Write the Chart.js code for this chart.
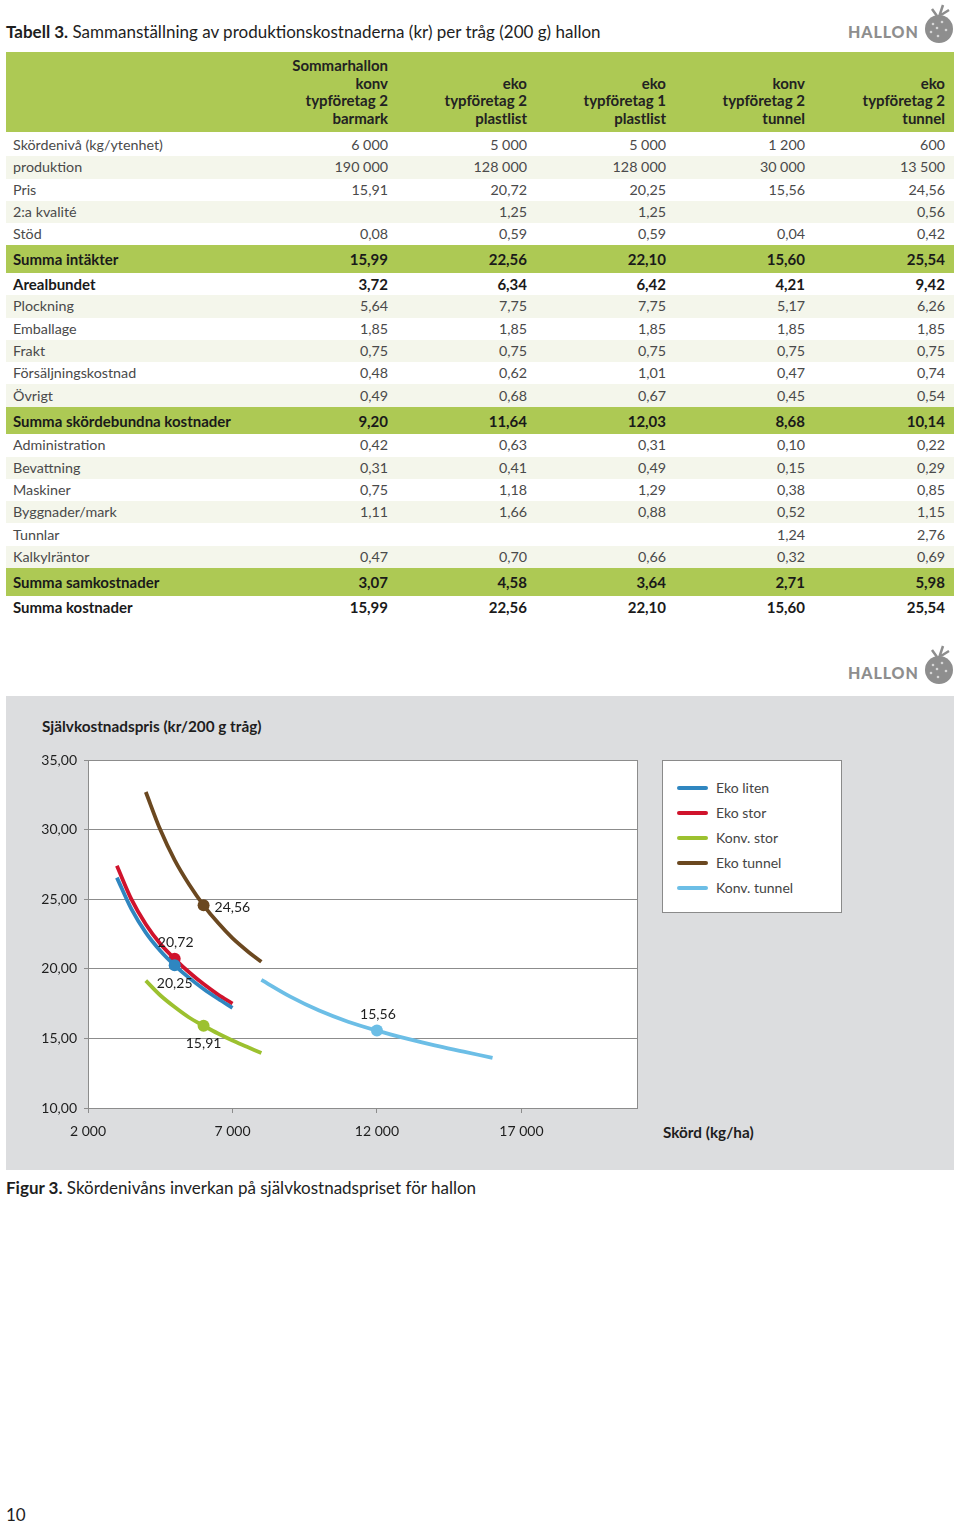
<!DOCTYPE html>
<html lang="sv">
<head>
<meta charset="utf-8">
<title>Hallon – självkostnadspris</title>
<script src="https://cdn.jsdelivr.net/npm/chart.js@4.4.1/dist/chart.umd.min.js"></script>
<style>
  body { margin: 0; width: 960px; height: 1522px; position: relative; background: #fff;
         font-family: Lato, 'Open Sans', sans-serif; color: #1e1e1e; }
  .rubrik { position: absolute; left: 6px; font-size: 17px; line-height: 20px; white-space: nowrap; }
  .logo-text { position: absolute; left: 848px; font-size: 16px; line-height: 20px; font-weight: 900;
               color: #8e8e8e; letter-spacing: 0.9px; }
  .logo-bild { position: absolute; left: 922px; }
  #tabell { position: absolute; left: 6px; top: 52px; width: 948px; border-collapse: collapse;
            table-layout: fixed; font-size: 14.3px; }
  #tabell th { background: #adc954; height: 75px; padding: 0 9px 5px 0; vertical-align: bottom;
               text-align: right; font-weight: 700; font-size: 15px; line-height: 17.5px; color: #222; }
  #tabell td { padding: 0 9px 0 0; text-align: right; line-height: 16px; color: #4a4a4a; white-space: nowrap; }
  #tabell td:first-child { text-align: left; padding-left: 7px; }
  #tabell tr.v td, #tabell tr.l td, #tabell tr.b td { height: 22.3px; }
  #tabell tr.l td { background: #f4f6eb; }
  #tabell tr.s td { height: 27.5px; background: #adc954; font-weight: 700; font-size: 15px; color: #1a1a1a; }
  #tabell tr.b td { font-weight: 700; font-size: 15px; color: #1a1a1a; }
  #tabell tr.gap td { height: 2px; padding: 0; }
  .figur { position: absolute; left: 6px; top: 696px; width: 948px; height: 474px; background: #dcdddf; }
  .y-titel { position: absolute; left: 36px; top: 21px; font-size: 15.3px; line-height: 18px; font-weight: 700; }
  .x-titel { position: absolute; left: 657px; top: 427px; font-size: 15.3px; line-height: 18px; font-weight: 700; }
  #diagram { position: absolute; left: 0; top: 44px; }
  #legend { position: absolute; left: 656px; top: 64px; width: 178px; height: 151px; background: #fff;
            border: 1px solid #8a8a8a; }
  .post { position: absolute; left: 14px; height: 20px; font-size: 14px; line-height: 20px; color: #444; }
  .post i { position: absolute; left: 0; top: 8px; width: 31px; height: 4px; border-radius: 2px; }
  .post span { position: absolute; left: 39px; white-space: nowrap; }
</style>
</head>
<body>

<div class="rubrik" style="top:22px"><b>Tabell 3.</b> Sammanställning av produktionskostnaderna (kr) per tråg (200 g) hallon</div>
<div class="logo-text" style="top:22px">HALLON</div>
<svg class="logo-bild" style="top:1px" width="34" height="44" viewBox="0 0 34 44">
  <path d="M17 16 L21 4 M19 14 L27 9 M15 15 L10 8" stroke="#8e8e8e" stroke-width="2.5" fill="none"/>
  <circle cx="17" cy="28" r="14" fill="#8e8e8e"/>
  <circle cx="11" cy="23" r="1.3" fill="#d6d6d6"/><circle cx="20" cy="21" r="1.3" fill="#d6d6d6"/>
  <circle cx="9" cy="31" r="1.3" fill="#d6d6d6"/><circle cx="24" cy="29" r="1.3" fill="#d6d6d6"/>
  <circle cx="16" cy="35" r="1.3" fill="#d6d6d6"/><circle cx="15" cy="27" r="1.3" fill="#d6d6d6"/>
</svg>

<table id="tabell">
  <colgroup><col style="width:252px"><col style="width:139px"><col style="width:139px"><col style="width:139px"><col style="width:139px"><col style="width:140px"></colgroup>
  <thead><tr id="rubrikRad"></tr></thead>
  <tbody id="tabellKropp"></tbody>
</table>

<div class="logo-text" style="top:663px">HALLON</div>
<svg class="logo-bild" style="top:642px" width="34" height="44" viewBox="0 0 34 44">
  <path d="M17 16 L21 4 M19 14 L27 9 M15 15 L10 8" stroke="#8e8e8e" stroke-width="2.5" fill="none"/>
  <circle cx="17" cy="28" r="14" fill="#8e8e8e"/>
  <circle cx="11" cy="23" r="1.3" fill="#d6d6d6"/><circle cx="20" cy="21" r="1.3" fill="#d6d6d6"/>
  <circle cx="9" cy="31" r="1.3" fill="#d6d6d6"/><circle cx="24" cy="29" r="1.3" fill="#d6d6d6"/>
  <circle cx="16" cy="35" r="1.3" fill="#d6d6d6"/><circle cx="15" cy="27" r="1.3" fill="#d6d6d6"/>
</svg>

<div class="figur">
  <div class="y-titel">Självkostnadspris (kr/200 g tråg)</div>
  <canvas id="diagram" width="640" height="410"></canvas>
  <div id="legend"></div>
  <div class="x-titel">Skörd (kg/ha)</div>
</div>

<div class="rubrik" style="top:1178px"><b>Figur 3.</b> Skördenivåns inverkan på självkostnadspriset för hallon</div>
<div class="rubrik" style="top:1505px">10</div>

<script>
// Tabell 3 - kolumnrubriker och rader
const kolumnRubriker = [
    ['Sommarhallon', 'konv', 'typföretag 2', 'barmark'],
    ['eko', 'typföretag 2', 'plastlist'],
    ['eko', 'typföretag 1', 'plastlist'],
    ['konv', 'typföretag 2', 'tunnel'],
    ['eko', 'typföretag 2', 'tunnel']
];

const tabellRader = [
    ['Skördenivå (kg/ytenhet)', '6 000', '5 000', '5 000', '1 200', '600'],
    ['produktion', '190 000', '128 000', '128 000', '30 000', '13 500'],
    ['Pris', '15,91', '20,72', '20,25', '15,56', '24,56'],
    ['2:a kvalité', '', '1,25', '1,25', '', '0,56'],
    ['Stöd', '0,08', '0,59', '0,59', '0,04', '0,42'],
    ['Summa intäkter', '15,99', '22,56', '22,10', '15,60', '25,54'],
    ['Arealbundet', '3,72', '6,34', '6,42', '4,21', '9,42'],
    ['Plockning', '5,64', '7,75', '7,75', '5,17', '6,26'],
    ['Emballage', '1,85', '1,85', '1,85', '1,85', '1,85'],
    ['Frakt', '0,75', '0,75', '0,75', '0,75', '0,75'],
    ['Försäljningskostnad', '0,48', '0,62', '1,01', '0,47', '0,74'],
    ['Övrigt', '0,49', '0,68', '0,67', '0,45', '0,54'],
    ['Summa skördebundna kostnader', '9,20', '11,64', '12,03', '8,68', '10,14'],
    ['Administration', '0,42', '0,63', '0,31', '0,10', '0,22'],
    ['Bevattning', '0,31', '0,41', '0,49', '0,15', '0,29'],
    ['Maskiner', '0,75', '1,18', '1,29', '0,38', '0,85'],
    ['Byggnader/mark', '1,11', '1,66', '0,88', '0,52', '1,15'],
    ['Tunnlar', '', '', '', '1,24', '2,76'],
    ['Kalkylräntor', '0,47', '0,70', '0,66', '0,32', '0,69'],
    ['Summa samkostnader', '3,07', '4,58', '3,64', '2,71', '5,98'],
    ['Summa kostnader', '15,99', '22,56', '22,10', '15,60', '25,54']
];

// v = vit, l = ljus, s = summa (grön), b = fet på vitt
const radTyp = ['v', 'l', 'v', 'l', 'v', 's', 'b', 'l', 'v', 'l', 'v', 'l', 's', 'v', 'l', 'v', 'l', 'v', 'l', 's', 'b'];

// Figur 3 - självkostnadspris (kr/200 g tråg) mot skörd (kg/ha)
const serieNamn = ['Eko liten', 'Eko stor', 'Konv. stor', 'Eko tunnel', 'Konv. tunnel'];
const serieFarg = ['#2f86c0', '#d0132c', '#9cc12f', '#6b4820', '#6cbee6'];

const ekoLitenSkord = [3000, 3500, 4000, 4500, 5000, 5500, 6000, 6500, 7000];
const ekoLitenPris = [26.55, 24.3, 22.6, 21.3, 20.25, 19.35, 18.55, 17.85, 17.2];

const ekoStorSkord = [3000, 3500, 4000, 4500, 5000, 5500, 6000, 6500, 7000];
const ekoStorPris = [27.4, 25.0, 23.2, 21.8, 20.72, 19.75, 18.9, 18.15, 17.5];

const konvStorSkord = [4000, 4500, 5000, 5500, 6000, 6500, 7000, 7500, 8000];
const konvStorPris = [19.15, 18.1, 17.25, 16.5, 15.91, 15.35, 14.85, 14.4, 13.95];

const ekoTunnelSkord = [4000, 4500, 5000, 5500, 6000, 6500, 7000, 7500, 8000];
const ekoTunnelPris = [32.7, 30.0, 27.8, 26.05, 24.56, 23.3, 22.2, 21.3, 20.5];

const konvTunnelSkord = [8000, 9000, 10000, 11000, 12000, 13000, 14000, 15000, 16000];
const konvTunnelPris = [19.2, 18.0, 17.0, 16.2, 15.56, 15.0, 14.5, 14.05, 13.6];

// punkten ur tabell 3 som markeras i varje kurva
const markerade = [4, 4, 4, 4, 4];

const xTickVarden = [2000, 7000, 12000, 17000];
const yTickVarden = [10, 15, 20, 25, 30, 35];

// bygg tabellen
var rubrikRad = '<th></th>';
kolumnRubriker.forEach(function (rader) {
    rubrikRad += '<th>' + rader.join('<br>') + '</th>';
});
document.getElementById('rubrikRad').innerHTML = rubrikRad;

var kropp = '<tr class="gap"><td colspan="6"></td></tr>';
tabellRader.forEach(function (rad, i) {
    kropp += '<tr class="' + radTyp[i] + '">';
    rad.forEach(function (cell) {
        kropp += '<td>' + cell + '</td>';
    });
    kropp += '</tr>';
});
document.getElementById('tabellKropp').innerHTML = kropp;

// legend
var legendHtml = '';
serieNamn.forEach(function (namn, i) {
    legendHtml += '<div class="post" style="top:' + (17 + i * 25) + 'px"><i style="background:' + serieFarg[i] + '"></i><span>' + namn + '</span></div>';
});
document.getElementById('legend').innerHTML = legendHtml;

function komma(v) {
    return v.toFixed(2).replace('.', ',');
}

function tusental(v) {
    return String(v).replace(/\B(?=(\d{3})+(?!\d))/g, ' ');
}

const skord = [ekoLitenSkord, ekoStorSkord, konvStorSkord, ekoTunnelSkord, konvTunnelSkord];
const pris = [ekoLitenPris, ekoStorPris, konvStorPris, ekoTunnelPris, konvTunnelPris];

const dataset = serieNamn.map(function (namn, i) {
    return {
        label: namn,
        data: skord[i].map(function (x, j) { return { x: x, y: pris[i][j] }; }),
        borderColor: serieFarg[i],
        backgroundColor: serieFarg[i],
        borderWidth: 3.8,
        cubicInterpolationMode: 'monotone',
        pointRadius: skord[i].map(function (x, j) { return j === markerade[i] ? 6 : 0; }),
        pointBorderWidth: 0,
        pointHoverRadius: 0
    };
});

// placering av värdeetiketterna
const etikettPlats = ['under', 'over', 'under', 'hoger', 'over'];

const etiketter = {
    id: 'etiketter',
    afterDatasetsDraw: function (chart) {
        var ctx = chart.ctx;
        ctx.save();
        ctx.font = '14px Lato, sans-serif';
        ctx.fillStyle = '#1e1e1e';
        ctx.textBaseline = 'middle';
        chart.data.datasets.forEach(function (ds, i) {
            var p = chart.getDatasetMeta(i).data[markerade[i]];
            var text = komma(ds.data[markerade[i]].y);
            if (etikettPlats[i] === 'hoger') {
                ctx.textAlign = 'left';
                ctx.fillText(text, p.x + 11, p.y + 2);
            } else if (etikettPlats[i] === 'over') {
                ctx.textAlign = 'center';
                ctx.fillText(text, p.x + 1, p.y - 16);
            } else {
                ctx.textAlign = 'center';
                ctx.fillText(text, p.x, p.y + 18);
            }
        });
        ctx.restore();
    }
};

// vit plotyta med ram till höger
const plotyta = {
    id: 'plotyta',
    beforeDraw: function (chart) {
        var a = chart.chartArea;
        var ctx = chart.ctx;
        ctx.save();
        ctx.fillStyle = '#ffffff';
        ctx.fillRect(a.left, a.top, a.right - a.left, a.bottom - a.top);
        ctx.restore();
    },
    beforeDatasetsDraw: function (chart) {
        var a = chart.chartArea;
        var ctx = chart.ctx;
        ctx.save();
        ctx.strokeStyle = '#8c8c8c';
        ctx.lineWidth = 1;
        ctx.beginPath();
        ctx.moveTo(a.right + 0.5, a.top);
        ctx.lineTo(a.right + 0.5, a.bottom);
        ctx.stroke();
        ctx.restore();
    }
};

Chart.defaults.font.family = 'Lato, sans-serif';
Chart.defaults.font.size = 14;
Chart.defaults.color = '#1e1e1e';

const ctx = document.getElementById('diagram').getContext('2d');

new Chart(ctx, {
    type: 'line',
    data: { datasets: dataset },
    options: {
        responsive: false,
        animation: false,
        devicePixelRatio: 1,
        layout: { padding: { top: 20, right: 9, left: 0, bottom: 0 } },
        plugins: {
            legend: { display: false },
            tooltip: { enabled: false }
        },
        scales: {
            x: {
                type: 'linear',
                min: 2000,
                max: 21000,
                afterBuildTicks: function (scale) {
                    scale.ticks = xTickVarden.map(function (v) { return { value: v }; });
                },
                afterFit: function (scale) { scale.height = 42; },
                ticks: {
                    padding: 10,
                    maxRotation: 0,
                    callback: function (v) { return tusental(v); }
                },
                grid: { drawOnChartArea: false, tickLength: 5, color: '#8c8c8c' },
                border: { color: '#8c8c8c' }
            },
            y: {
                min: 10,
                max: 35,
                afterBuildTicks: function (scale) {
                    scale.ticks = yTickVarden.map(function (v) { return { value: v }; });
                },
                afterFit: function (scale) { scale.width = 82; },
                ticks: {
                    padding: 7,
                    callback: function (v) { return komma(v); }
                },
                grid: { color: '#8c8c8c', tickLength: 4 },
                border: { color: '#8c8c8c' }
            }
        }
    },
    plugins: [plotyta, etiketter]
});
</script>
</body>
</html>
